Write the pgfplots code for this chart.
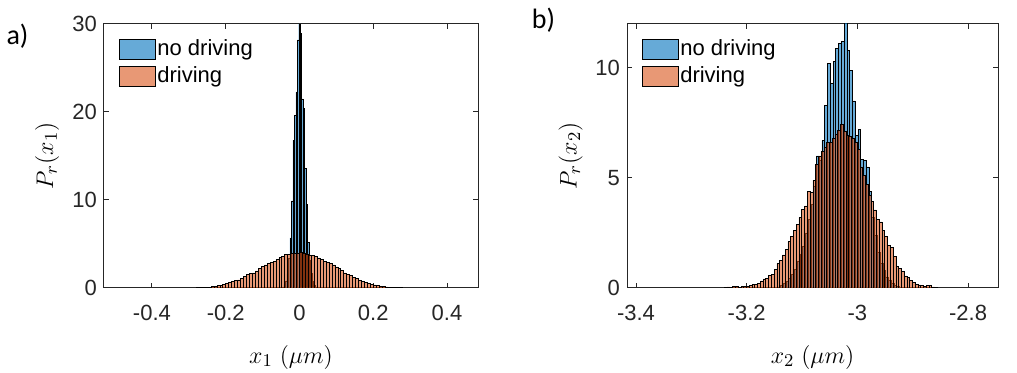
\documentclass[border=0pt]{standalone}
\usepackage{fontspec}
\setmainfont{Liberation Sans}
\newfontfamily\calibri{Carlito}
\usepackage{pgfplots}
\pgfplotsset{compat=1.18}

\definecolor{mblue}{rgb}{0,0.447,0.741}
\definecolor{morange}{rgb}{0.85,0.325,0.098}
\definecolor{maxis}{rgb}{0.15,0.15,0.15}

\pgfplotsset{
  histax/.style={
    scale only axis, height=132pt, anchor=south west,
    ybar, bar shift=0pt,
    axis line style={maxis, line width=0.5pt},
    every tick/.style={maxis, line width=0.5pt},
    tick align=inside, xtick pos=both, ytick pos=both, major tick length=2.5pt,
    tick label style={font=\fontsize{11}{13}\selectfont, text=maxis},
    /pgf/number format/assume math mode=true,
    label style={font=\fontsize{12.5}{14}\selectfont},
    xticklabel style={anchor=center, yshift=-12.5pt},
    ylabel style={at={(axis description cs:-0.152,0.5)}, anchor=center},
    xlabel style={at={(axis description cs:0.5,-0.262)}, anchor=center},
    ymin=0,
    legend cell align=left,
    legend style={draw=none, fill=none, at={(axis description cs:0.038,0.95)},
      anchor=north west, inner sep=0pt, row sep=2pt,
      font=\fontsize{11}{13}\selectfont, nodes={inner sep=1pt}},
  },
  hblue/.style={fill=mblue, fill opacity=0.6, draw=black, line width=0.3pt,
    legend image code/.code={\draw[fill=mblue, fill opacity=0.6, draw=black, line width=0.4pt] (0pt,-5pt) rectangle (18pt,5pt);}},
  horange/.style={fill=morange, fill opacity=0.6, draw=black, line width=0.3pt,
    legend image code/.code={\draw[fill=morange, fill opacity=0.6, draw=black, line width=0.4pt] (0pt,-5pt) rectangle (18pt,5pt);}},
}

\begin{document}
\begin{tikzpicture}
\useasboundingbox (0,0) rectangle (508.5pt,186.5pt);

% a) x1 histograms
\begin{axis}[histax, at={(52pt,42.5pt)}, width=187pt,
  xmin=-0.53, xmax=0.484, ymax=30,
  xtick={-0.4,-0.2,0,0.2,0.4}, ytick={0,10,20,30},
  xlabel={$x_1\ (\mu m)$}, ylabel={$P_r(x_1)$}]
\addplot[hblue, bar width=0.004, line width=0.2pt] coordinates {
(-0.044,0.13) (-0.040,0.35) (-0.036,0.8) (-0.032,1.6) (-0.028,3.4) (-0.024,5.7)
(-0.020,9.9) (-0.016,16.8) (-0.012,19.6) (-0.008,22.3) (-0.004,28.2) (0.000,30.0)
(0.004,28.9) (0.008,21.5) (0.012,20.4) (0.016,13.6) (0.020,9.5) (0.024,5.2)
(0.028,3.2) (0.032,1.7) (0.036,0.75) (0.040,0.3) (0.044,0.12)};
\addlegendentry{no driving}
\addplot[horange, bar width=0.008] coordinates {
(-0.276,0.04) (-0.268,0.05) (-0.260,0.06) (-0.252,0.08) (-0.244,0.10) (-0.236,0.14)
(-0.228,0.17) (-0.220,0.25) (-0.212,0.31) (-0.204,0.40) (-0.196,0.49) (-0.188,0.60)
(-0.180,0.72) (-0.172,0.86) (-0.164,0.93) (-0.156,1.10) (-0.148,1.32) (-0.140,1.50)
(-0.132,1.64) (-0.124,1.72) (-0.116,1.95) (-0.108,2.22) (-0.100,2.45) (-0.092,2.62)
(-0.084,2.76) (-0.076,2.88) (-0.068,3.00) (-0.060,3.22) (-0.052,3.45) (-0.044,3.62)
(-0.036,3.78) (-0.028,3.86) (-0.020,3.90) (-0.012,3.92) (-0.004,3.98) (0.004,4.05)
(0.012,3.96) (0.020,3.88) (0.028,3.75) (0.036,3.68) (0.044,3.55) (0.052,3.42)
(0.060,3.25) (0.068,3.06) (0.076,2.90) (0.084,2.80) (0.092,2.62) (0.100,2.40)
(0.108,2.22) (0.116,2.02) (0.124,1.72) (0.132,1.58) (0.140,1.40) (0.148,1.20)
(0.156,1.08) (0.164,0.90) (0.172,0.78) (0.180,0.66) (0.188,0.55) (0.196,0.45)
(0.204,0.36) (0.212,0.29) (0.220,0.22) (0.228,0.17) (0.236,0.13) (0.244,0.10)
(0.252,0.07) (0.260,0.05) (0.268,0.04) (0.276,0.03)};
\addlegendentry{driving}
\end{axis}

% b) x2 histograms
\begin{axis}[histax, at={(313.5pt,42.5pt)}, width=185.5pt,
  xmin=-3.4163, xmax=-2.7458, ymax=12,
  xtick={-3.4,-3.2,-3,-2.8}, ytick={0,5,10},
  xlabel={$x_2\ (\mu m)$}, ylabel={$P_r(x_2)$}]
\addplot[hblue, bar width=0.005] coordinates {
(-3.1415,0.05) (-3.1365,0.10) (-3.1315,0.20) (-3.1265,0.30) (-3.1215,0.45) (-3.1165,0.60)
(-3.1115,0.85) (-3.1065,1.20) (-3.1015,1.55) (-3.0965,1.90) (-3.0915,2.50) (-3.0865,3.10)
(-3.0815,3.80) (-3.0765,4.60) (-3.0715,6.00) (-3.0665,5.80) (-3.0615,6.70) (-3.0565,8.30)
(-3.0515,10.20) (-3.0465,9.30) (-3.0415,10.30) (-3.0365,10.90) (-3.0315,11.10) (-3.0265,11.20)
(-3.0215,12.40) (-3.0165,10.80) (-3.0115,9.90) (-3.0065,8.50) (-3.0015,6.95) (-2.9965,7.20)
(-2.9915,5.85) (-2.9865,5.80) (-2.9815,5.50) (-2.9765,4.40) (-2.9715,3.20) (-2.9665,2.40)
(-2.9615,1.60) (-2.9565,1.10) (-2.9515,0.80) (-2.9465,0.50) (-2.9415,0.35) (-2.9365,0.20)
(-2.9315,0.12) (-2.9265,0.06)};
\addlegendentry{no driving}
\addplot[horange, bar width=0.005] coordinates {
(-3.238,0.03) (-3.233,0.05) (-3.228,0.03) (-3.223,0.06) (-3.218,0.06) (-3.213,0.03)
(-3.208,0.06) (-3.203,0.09) (-3.198,0.09) (-3.193,0.12) (-3.188,0.17) (-3.183,0.17)
(-3.178,0.21) (-3.173,0.32) (-3.168,0.41) (-3.163,0.44) (-3.158,0.59) (-3.153,0.62)
(-3.148,0.85) (-3.143,1.12) (-3.138,1.27) (-3.133,1.50) (-3.128,1.76) (-3.123,2.10)
(-3.118,2.33) (-3.113,2.60) (-3.108,2.90) (-3.103,3.20) (-3.098,3.58) (-3.093,3.73)
(-3.088,4.38) (-3.083,4.35) (-3.078,4.90) (-3.073,5.60) (-3.068,6.00) (-3.063,6.20)
(-3.058,6.40) (-3.053,6.60) (-3.048,6.60) (-3.043,6.80) (-3.038,7.00) (-3.033,7.15)
(-3.028,7.45) (-3.023,7.10) (-3.018,6.95) (-3.013,6.90) (-3.008,6.80) (-3.003,6.60)
(-2.998,6.30) (-2.993,5.50) (-2.988,5.10) (-2.983,4.70) (-2.978,4.20) (-2.973,3.95)
(-2.968,3.55) (-2.963,3.10) (-2.958,3.00) (-2.953,2.60) (-2.948,2.33) (-2.943,1.95)
(-2.938,1.83) (-2.933,1.45) (-2.928,0.97) (-2.923,0.90) (-2.918,0.74) (-2.913,0.55)
(-2.908,0.48) (-2.903,0.36) (-2.898,0.26) (-2.893,0.18) (-2.888,0.14) (-2.883,0.12)
(-2.878,0.09) (-2.873,0.12) (-2.868,0.10) (-2.863,0.05) (-2.858,0.03)};
\addlegendentry{driving}
\end{axis}

\node[font=\calibri\fontsize{14}{16}\selectfont, anchor=center] at (8.75pt,168.5pt) {a)};
\node[font=\calibri\fontsize{14}{16}\selectfont, anchor=center] at (271.75pt,176.5pt) {b)};
\end{tikzpicture}
\end{document}
